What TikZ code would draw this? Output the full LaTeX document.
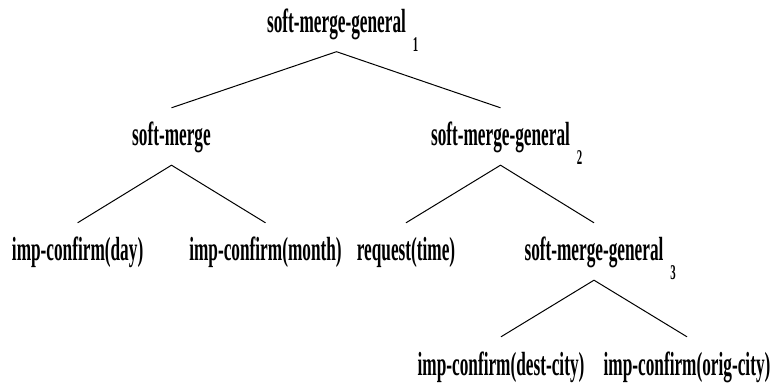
\documentclass[tikz,border=0pt]{standalone}
\usepackage{fontspec}
% condensed bold serif for the tree labels
\newfontfamily\treefont[FakeStretch=0.515,UprightFont=* Bold]{Liberation Serif}

\tikzset{
  tnode/.style={font=\treefont\fontsize{33.5}{33.5}\selectfont, anchor=base,
    text height=23pt, text depth=4pt, inner xsep=0pt, inner ysep=15pt},
  subnum/.style={font=\treefont\fontsize{21}{21}\selectfont,
    anchor=base west, inner sep=0pt},
  branch/.style={line width=1pt}
}

\begin{document}
\begin{tikzpicture}[x=1pt,y=-1pt]
  \useasboundingbox (0,0) rectangle (774,387);

  % level 1
  \node[tnode] (root) at (336.5,32.5) {soft-merge-general};
  \node[subnum] (root-i) at ([xshift=6.5pt,yshift=-19pt]root.base east) {1};

  % level 2
  \node[tnode] (sm) at (171.5,146) {soft-merge};
  \node[tnode] (smg2) at (500.5,146) {soft-merge-general};
  \node[subnum] (smg2-i) at ([xshift=6.5pt,yshift=-19pt]smg2.base east) {2};

  % level 3
  \node[tnode] (day) at (77.6,261) {imp-confirm(day)};
  \node[tnode] (month) at (265.5,261) {imp-confirm(month)};
  \node[tnode] (req) at (406,261) {request(time)};
  \node[tnode] (smg3) at (594,261) {soft-merge-general};
  \node[subnum] (smg3-i) at ([xshift=6.5pt,yshift=-19pt]smg3.base east) {3};

  % level 4
  \node[tnode] (dest) at (501,375) {imp-confirm(dest-city)};
  \node[tnode] (orig) at (687,375) {imp-confirm(orig-city)};

  % branches
  \draw[branch] (sm.north) -- (root.south) -- (smg2.north);
  \draw[branch] (day.north) -- (sm.south) -- (month.north);
  \draw[branch] (req.north) -- (smg2.south) -- (smg3.north);
  \draw[branch] (dest.north) -- (smg3.south) -- (orig.north);
\end{tikzpicture}
\end{document}
